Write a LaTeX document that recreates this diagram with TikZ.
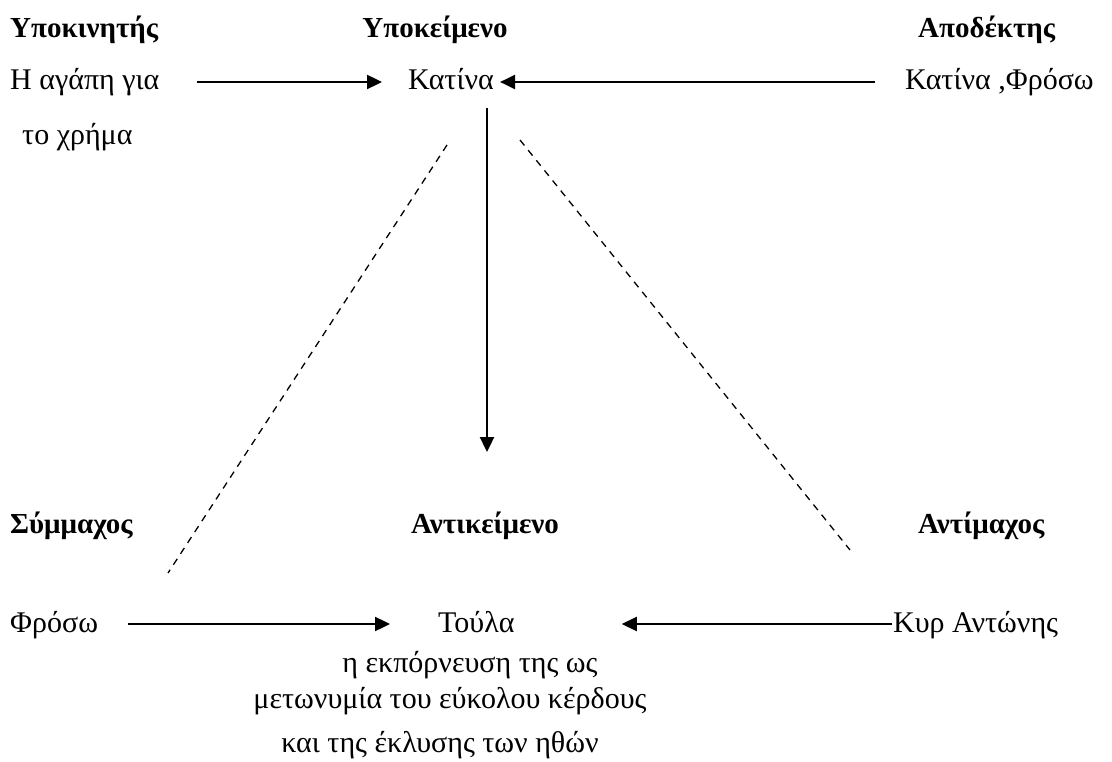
\documentclass[tikz,border=0pt]{standalone}
\usepackage{fontspec}
\setmainfont{Liberation Serif}
\usetikzlibrary{arrows.meta}
\begin{document}
\begin{tikzpicture}[x=1pt,y=-1pt,
  lbl/.style={inner sep=0pt, font=\fontsize{30}{36}\selectfont, text height=22pt, text depth=6pt},
  hdr/.style={lbl, font=\fontsize{29}{36}\selectfont\bfseries},
  arr/.style={line width=2.4pt, -{Triangle[length=15pt,width=14pt]}},
  dash line/.style={line width=1.3pt, dash pattern=on 7pt off 6pt}]
\useasboundingbox (0,0) rectangle (1112,762);

% role headings
\node[hdr, anchor=base west] (h1) at (10,38) {Υποκινητής};
\node[hdr, anchor=base] (h2) at (435,38) {Υποκείμενο};
\node[hdr, anchor=base west] (h3) at (918,38) {Αποδέκτης};
\node[hdr, anchor=base west] (h4) at (10,533) {Σύμμαχος};
\node[hdr, anchor=base] (h5) at (485,533) {Αντικείμενο};
\node[hdr, anchor=base west] (h6) at (918,533) {Αντίμαχος};

% actants
\node[lbl, anchor=base west] (agapi) at (10,90) {Η αγάπη για};
\node[lbl, anchor=base west] (chrima) at (22,145) {το χρήμα};
\node[lbl, anchor=base west] (katina) at (408,90) {Κατίνα};
\node[lbl, anchor=base west] (katfr) at (905,90) {Κατίνα ,Φρόσω};
\node[lbl, anchor=base west] (froso) at (10,632) {Φρόσω};
\node[lbl, anchor=base west] (toula) at (438,632) {Τούλα};
\node[lbl, anchor=base west] (kyr) at (893,632) {Κυρ Αντώνης};
\node[lbl, anchor=base] (obj1) at (470,672) {η εκπόρνευση της ως};
\node[lbl, anchor=base] (obj2) at (450,708) {μετωνυμία του εύκολου κέρδους};
\node[lbl, anchor=base] (obj3) at (440,752) {και της έκλυσης των ηθών};

% free ends
\coordinate (vtip) at (487,452);
\coordinate (l1) at (447,145);
\coordinate (l2) at (168,573);
\coordinate (r1) at (520,140);
\coordinate (r2) at (850,550);

% arrows
\draw[arr, shorten <=37pt, shorten >=26pt] (agapi.east) -- (katina.west);
\draw[arr, shorten <=30pt, shorten >=6pt] (katfr.west) -- (katina.east);
\draw[arr, shorten <=12pt] (vtip |- katina.south) -- (vtip);
\draw[arr, shorten <=30pt, shorten >=48pt] (froso.east) -- (toula.west);
\draw[arr, shorten <=1pt, shorten >=107pt] (kyr.west) -- (toula.east);

% dashed sides
\draw[dash line] (l1) -- (l2);
\draw[dash line] (r1) -- (r2);
\end{tikzpicture}
\end{document}
